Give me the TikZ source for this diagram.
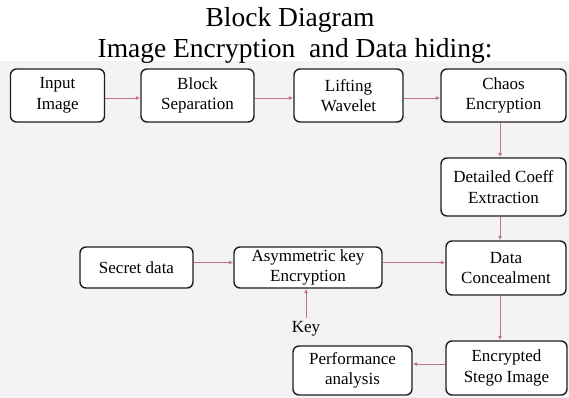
\documentclass[tikz,border=0pt]{standalone}
\usepackage{fontspec}
\setmainfont{Liberation Serif}
\usetikzlibrary{arrows.meta}
\definecolor{flowpink}{RGB}{196,112,138}
\definecolor{panelgray}{RGB}{243,243,243}
\definecolor{boxedge}{RGB}{30,30,30}
\begin{document}
\begin{tikzpicture}[x=1pt,y=-1pt,
  block/.style={draw=boxedge, line width=1.4pt, rounded corners=6pt, fill=white,
    align=center, inner sep=2pt,
    font=\fontsize{17}{20.5}\selectfont},
  flow/.style={draw=flowpink, line width=0.9pt, -{Latex[length=4.5pt,width=4pt]}},
  plain/.style={font=\fontsize{17}{20.5}\selectfont, inner sep=3pt}]
  % page and the light panel behind the diagram
  \useasboundingbox (0,0) rectangle (569,398);
  \fill[white] (0,0) rectangle (569,398);
  \fill[panelgray] (0,61) rectangle (569,398);

  % heading
  \node[anchor=base, font=\fontsize{27.5}{30}\selectfont, inner sep=0] (t1) at (290,27) {Block Diagram};
  \node[anchor=base, font=\fontsize{27.5}{30}\selectfont, inner sep=0] (t2) at (295,58) {Image Encryption\ \ and Data hiding:};

  % top row
  \node[block, minimum width=94pt,  minimum height=53pt] (in) at (57.5,95.5)  {Input\\Image};
  \node[block, minimum width=113pt, minimum height=53pt] (bs) at (197.5,95.5) {Block\\Separation};
  \node[block, minimum width=109pt, minimum height=53pt] (lw) at (348.5,95.5) {Lifting\\Wavelet};
  \node[block, minimum width=125pt, minimum height=53pt] (ce) at (503.5,95.5) {Chaos\\Encryption};

  % right column
  \node[block, minimum width=125pt, minimum height=58pt] (dc)   at (503.5,187) {Detailed Coeff\\Extraction};
  \node[block, minimum width=120pt, minimum height=54pt] (dcon) at (506,268)   {Data\\Concealment};
  \node[block, minimum width=121pt, minimum height=54pt] (es)   at (506.5,368) {Encrypted\\Stego Image};

  % middle row
  \node[block, minimum width=113pt, minimum height=41pt] (sd) at (136.5,267.5) {Secret data};
  \node[block, minimum width=148pt, minimum height=41pt] (ak) at (308,267.5)   {Asymmetric key\\Encryption};
  \node[plain] (key) at (306,329) {Key};

  % bottom row
  \node[block, minimum width=119pt, minimum height=49pt] (pa) at (352.5,370.5) {Performance\\analysis};

  % connectors
  \draw[flow] ([yshift=-2.5pt]in.east) -- ([yshift=-2.5pt]in.east -| bs.west);
  \draw[flow] ([yshift=-2.5pt]bs.east) -- ([yshift=-2.5pt]bs.east -| lw.west);
  \draw[flow] ([yshift=-2.5pt]lw.east) -- ([yshift=-2.5pt]lw.east -| ce.west);
  \draw[flow] ([xshift=-3.5pt]ce.south) -- ([xshift=-3.5pt]ce.south |- dc.north);
  \draw[flow] ([xshift=-3.5pt]dc.south) -- ([xshift=-3.5pt]dc.south |- dcon.north);
  \draw[flow] ([xshift=-6pt]dcon.south) -- ([xshift=-6pt]dcon.south |- es.north);
  \draw[flow] ([yshift=5pt]sd.east) -- ([yshift=5pt]sd.east -| ak.west);
  \draw[flow] ([yshift=5pt]ak.east) -- ([yshift=5pt]ak.east -| dcon.west);
  \draw[flow] (key.north) -- (key.north |- ak.south);
  \draw[flow] ([yshift=4pt]es.west) -- ([yshift=4pt]es.west -| pa.east);
\end{tikzpicture}
\end{document}
